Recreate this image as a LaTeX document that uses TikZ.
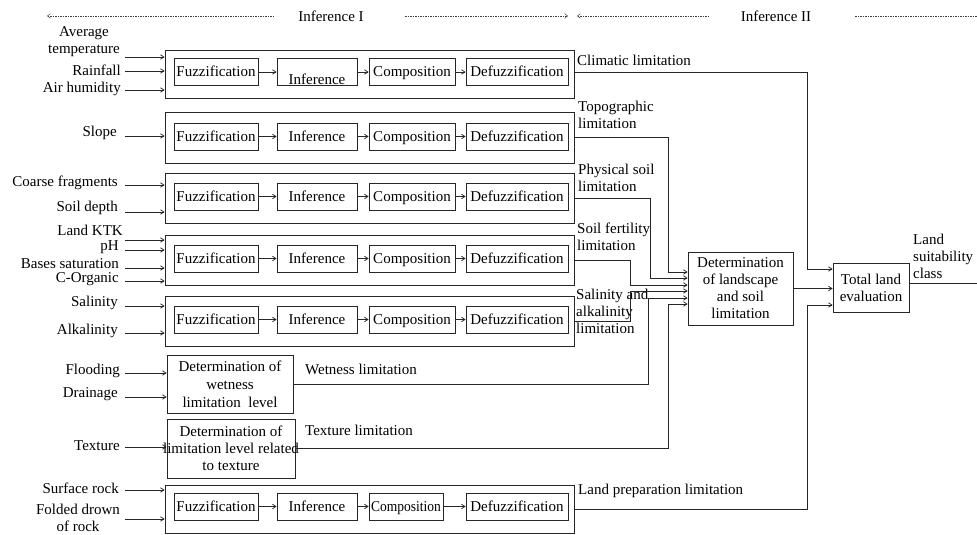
\documentclass[tikz,border=0pt]{standalone}
\usepackage{fontspec}
\setmainfont{Liberation Serif}
\usepackage{graphicx}
\usetikzlibrary{arrows.meta}
\newcommand\pipe[7]{%
  \node[outer, minimum height=#3] (o#1) at (369.5,#2) {};
  \node[ibox, minimum width=84pt] (f#1) at (216,#4) {Fuzzification};
  \node[ibox, minimum width=80pt, #6] (i#1) at (317,#4) {Inference};
  \node[ibox, minimum width=#5 pt] (c#1) at ({369+#5/2},#4) {#7};
  \node[ibox, minimum width=102pt] (d#1) at (517,#4) {Defuzzification};
  \draw[arr] (f#1.east) -- (i#1.west);
  \draw[arr] (i#1.east) -- (c#1.west);
  \draw[arr] (c#1.east) -- (d#1.west);
}
\newcommand\inarr[3]{%
  \coordinate (#1) at (125,#2);
  \draw[arr] (#1) -- (#1 -| #3.west);
}
\begin{document}
\begin{tikzpicture}[x=1pt,y=-1pt,
  font=\fontsize{15pt}{17pt}\selectfont,
  line/.style={draw=black!85, line width=0.75pt},
  arr/.style={line, -{Straight Barb[length=3.5pt,width=4.5pt]}},
  outer/.style={line, rectangle, minimum width=409pt, inner sep=0pt},
  ibox/.style={line, rectangle, minimum height=27pt, inner sep=0pt, text height=12pt, text depth=2pt},
  lbl/.style={inner sep=0pt, align=center},
  dashline/.style={draw=black!75, line width=0.5pt, dash pattern=on 1.5pt off 1pt}
]
\useasboundingbox (0,0) rectangle (977,535);

% top legend
\coordinate (dA1) at (47,16); \coordinate (dA2) at (273,16);
\draw[dashline, {Straight Barb[length=3pt,width=4.5pt]}-] (dA1) -- (dA2);
\node[lbl] (inf1) at (331,16) {Inference I};
\coordinate (dB1) at (405,16); \coordinate (dB2) at (568,16);
\draw[dashline, -{Straight Barb[length=3pt,width=4.5pt]}] (dB1) -- (dB2);
\coordinate (dC1) at (577,16); \coordinate (dC2) at (708,16);
\draw[dashline, {Straight Barb[length=3pt,width=4.5pt]}-] (dC1) -- (dC2);
\node[lbl] (inf2) at (776,16) {Inference II};
\coordinate (dD1) at (855,16); \coordinate (dD2) at (977,16);
\draw[dashline] (dD1) -- (dD2);

% pipelines
\pipe{1}{74}{48pt}{72}{86}{text height=25pt, text depth=0pt}{Composition}
\pipe{2}{137.5}{51pt}{136.5}{86}{}{Composition}
\pipe{3}{198}{50pt}{196.5}{86}{}{Composition}
\pipe{4}{260}{50pt}{258.5}{86}{}{Composition}
\pipe{5}{321}{50pt}{319.5}{86}{}{Composition}
\pipe{8}{509}{48pt}{506.5}{74}{}{\scalebox{0.9}[1]{Composition}}

% other boxes
\node[line, rectangle, minimum width=126pt, minimum height=58pt, inner sep=0pt, align=center] (wet) at (230,384)
  {Determination of\\[1pt] wetness\\[1pt] limitation\ \ level};
\node[line, rectangle, minimum width=128pt, minimum height=59pt, inner sep=0pt, align=center] (tex) at (231,448.5)
  {Determination of\\\makebox[120pt]{limitation level related}\\to texture};
\node[line, rectangle, minimum width=105pt, minimum height=73pt, inner sep=0pt, align=center] (det) at (740.5,288.5)
  {Determination\\of landscape\\and soil\\limitation};
\node[line, rectangle, minimum width=76pt, minimum height=49pt, inner sep=0pt, align=center] (tot) at (871,287.5)
  {Total land\\evaluation};

% input labels
\node[lbl] (tAvg) at (84,41.5) {Average\\temperature};
\node[lbl, anchor=east] (tRain) at (121,70) {Rainfall};
\node[lbl, anchor=east] (tAir) at (121,89) {Air humidity};
\node[lbl, anchor=east] (tSlope) at (117,133) {Slope};
\node[lbl, anchor=east] (tCoarse) at (118,183) {Coarse fragments};
\node[lbl, anchor=east] (tDepth) at (118,208) {Soil depth};
\node[lbl, anchor=east] (tKTK) at (123,230) {Land KTK};
\node[lbl, anchor=east] (tpH) at (119,247) {pH};
\node[lbl, anchor=east] (tBase) at (119,264) {Bases saturation};
\node[lbl, anchor=east] (tCorg) at (119,279) {C-Organic};
\node[lbl, anchor=east] (tSal) at (118,303) {Salinity};
\node[lbl, anchor=east] (tAlk) at (118,331) {Alkalinity};
\node[lbl, anchor=east] (tFlood) at (120,371) {Flooding};
\node[lbl, anchor=east] (tDrain) at (118,394) {Drainage};
\node[lbl, anchor=east] (tTex) at (120,446) {Texture};
\node[lbl, anchor=east] (tSurf) at (119,488) {Surface rock};
\node[lbl] (tFold) at (78,518) {Folded drown\\of rock};

% input arrows
\inarr{a1}{57}{o1} \inarr{a2}{71}{o1} \inarr{a3}{90}{o1}
\inarr{a4}{136}{o2}
\inarr{a5}{185}{o3} \inarr{a6}{212}{o3}
\inarr{a7}{240}{o4} \inarr{a8}{250}{o4} \inarr{a9}{268}{o4} \inarr{a10}{281}{o4}
\inarr{a11}{306}{o5} \inarr{a12}{333}{o5}
\inarr{a13}{373}{wet} \inarr{a14}{397}{wet}
\inarr{a15}{447}{tex}
\inarr{a16}{490}{o8} \inarr{a17}{519}{o8}

% output labels
\node[lbl, anchor=west, align=left] (lClim) at (577,60) {Climatic limitation};
\node[lbl, anchor=west, align=left] (lTopo) at (578,115) {Topographic\\limitation};
\node[lbl, anchor=west, align=left] (lPhys) at (578,177.5) {Physical soil\\limitation};
\node[lbl, anchor=west, align=left] (lFert) at (577,237) {Soil fertility\\limitation};
\node[lbl, anchor=west, align=left] (lSal) at (576,311) {Salinity and\\alkalinity\\limitation};
\node[lbl, anchor=west, align=left] (lWet) at (305,369) {Wetness limitation};
\node[lbl, anchor=west, align=left] (lTex) at (305,430) {Texture limitation};
\node[lbl, anchor=west, align=left] (lPrep) at (578,491) {Land preparation limitation};
\node[lbl, anchor=west, align=left] (lLsc) at (913,256) {Land\\suitability\\class};

% output connectors
\draw[arr] (o1.east |- f1) -| (807,269) -- ([yshift=18.5pt]tot.west);
\draw[arr] (o2.east) -| (668,272) -- ([yshift=16.5pt]det.west);
\draw[arr] (o3.east) -| (650,278) -- ([yshift=10.5pt]det.west);
\draw[arr] (o4.east) -| (630,285) -- ([yshift=3.5pt]det.west);
\draw[arr] (o5.east) -| (630,291) -- ([yshift=-2.5pt]det.west);
\draw[arr] (wet.east) -| (648,298) -- ([yshift=-9.5pt]det.west);
\draw[arr] (tex.east) -| (668,304) -- ([yshift=-15.5pt]det.west);
\draw[arr] (det.east) -- (det.east -| tot.west);
\draw[arr] (o8.east) -| (807,305) -- ([yshift=-17.5pt]tot.west);
\coordinate (fin) at (977,283);
\draw[line] (tot.east |- fin) -- (fin);
\end{tikzpicture}
\end{document}
